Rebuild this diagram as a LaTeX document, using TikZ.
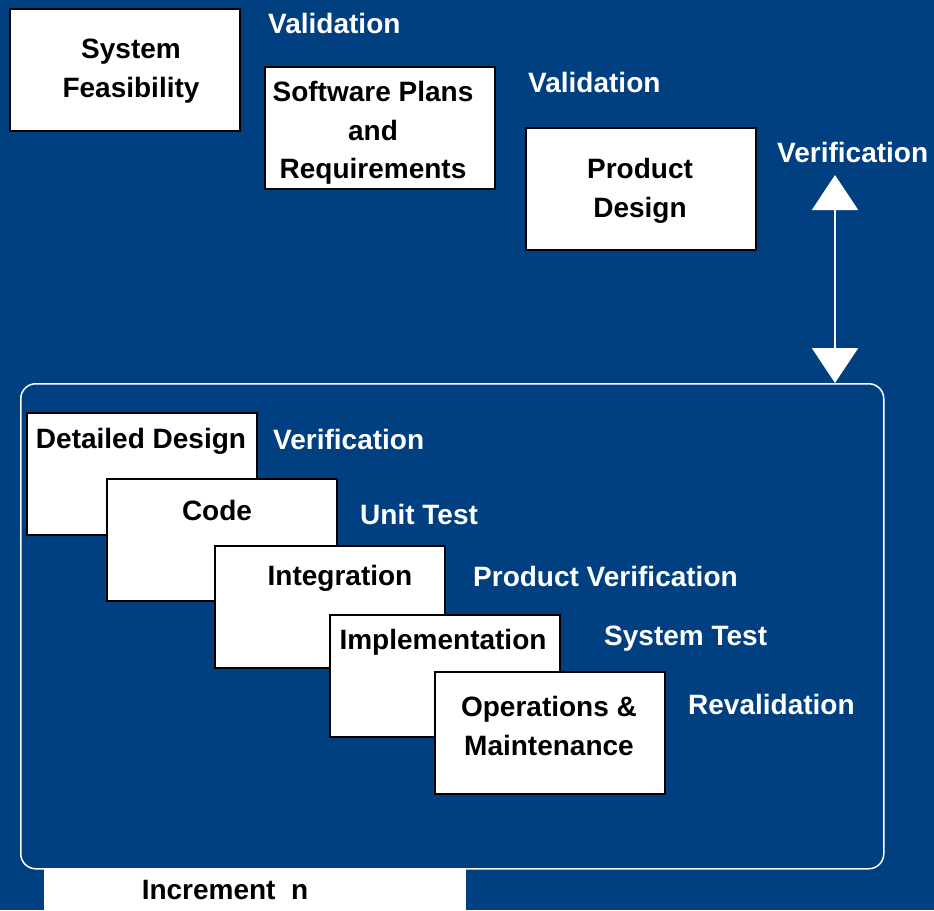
\documentclass[tikz,border=0pt]{standalone}
\usepackage{fontspec}
\setmainfont{Liberation Sans}
\usetikzlibrary{arrows.meta}
\definecolor{bgblue}{RGB}{0,64,128}
\begin{document}
\begin{tikzpicture}[x=1pt,y=-1pt,
  txt/.style={font=\fontsize{28}{38.5}\selectfont\bfseries, inner sep=0pt, align=center},
  wlab/.style={txt, text=white, anchor=west},
  box/.style={draw=black, line width=2pt, fill=white, minimum width=230pt, minimum height=122pt, inner sep=0pt, anchor=north west},
  btxt/.style={txt, text=black},
  frame/.style={draw=white, line width=1.5pt, rounded corners=15pt, minimum width=863pt, minimum height=485pt, inner sep=0pt, anchor=north west},
  biarrow/.style={draw=white, line width=2pt, {Triangle[width=46pt,length=35pt,fill=white]}-{Triangle[width=46pt,length=35pt,fill=white]}}
]
\fill[bgblue] (0,0) rectangle (934,910);
\useasboundingbox (0,0) rectangle (934,910);

% increment bar
\node[fill=white, minimum width=422pt, minimum height=42pt, inner sep=0pt, anchor=north west] (incbar) at (44,868) {};
\node[btxt] (inctxt) at (225,890) {Increment\ \ n};

% frame
\node[frame] (frame) at (20,383) {};

% top boxes
\node[box] (sf) at (9,8) {};
\node[btxt] (sft) at (131,71) {System\\Feasibility};
\node[box] (sp) at (264,66) {};
\node[btxt] (spt) at (373,133) {Software Plans\\and\\Requirements};
\node[box] (pd) at (525,127) {};
\node[btxt] (pdt) at (640,191) {Product\\Design};

\node[wlab] (val1) at (268,23) {Validation};
\node[wlab] (val2) at (528,82) {Validation};
\node[wlab] (ver1) at (777,152) {Verification};

\coordinate (atop) at (835,175);
\coordinate (abot) at (frame.north -| atop);
\draw[biarrow] (atop) -- (abot);

% stacked boxes
\node[box] (dd) at (26,412) {};
\node[btxt] (ddt) at (141,441) {Detailed Design};
\node[box] (code) at (106,478) {};
\node[btxt] (codet) at (217,510) {Code};
\node[box] (integ) at (214,545) {};
\node[btxt] (integt) at (340,578) {Integration};
\node[box] (impl) at (329,614) {};
\node[btxt] (implt) at (443,642) {Implementation};
\node[box] (ops) at (434,671) {};
\node[btxt] (opst) at (549,726) {Operations \&\\Maintenance};

\node[wlab] (l1) at (273,439) {Verification};
\node[wlab] (l2) at (360,514) {Unit Test};
\node[wlab] (l3) at (473,576) {Product Verification};
\node[wlab] (l4) at (604,639) {System Test};
\node[wlab] (l5) at (688,704) {Revalidation};
\end{tikzpicture}
\end{document}
